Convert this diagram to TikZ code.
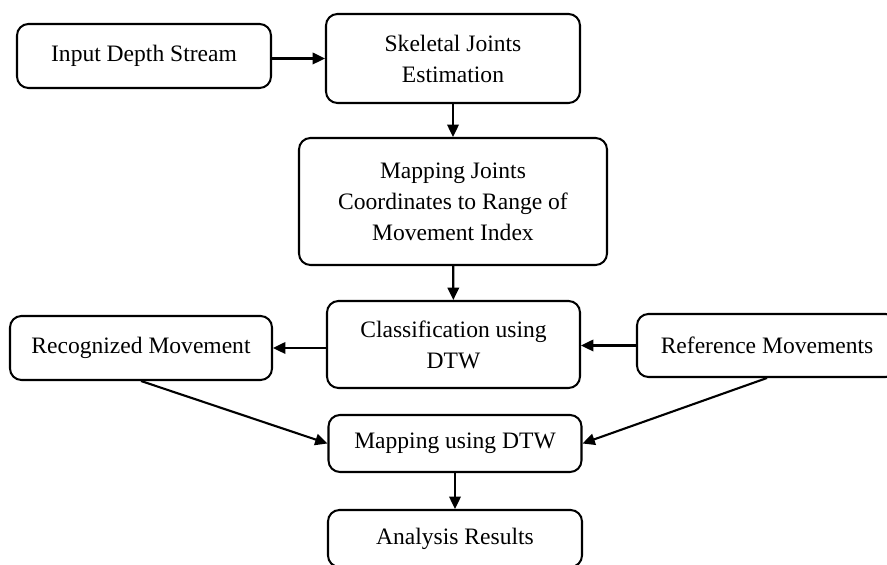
\documentclass[tikz,border=0pt]{standalone}
\usepackage{fontspec}
\setmainfont{Liberation Serif}
\usepackage{tikz}
\usetikzlibrary{shapes, arrows.meta, positioning, calc}

\tikzset{
  stage/.style={draw, rectangle, rounded corners=6.5pt, line width=1.15pt, align=center,
    font=\fontsize{13.4pt}{17.6pt}\selectfont, inner sep=0pt},
  flow/.style={-{Triangle[length=7pt, width=6.5pt]}, line width=1.2pt}
}

\begin{document}
\begin{tikzpicture}
\useasboundingbox (0,0) rectangle (17.74,-11.3);

% Top row
\node[stage, minimum width=5.08cm, minimum height=1.28cm] (input) at (2.88, -1.12) {Input Depth Stream};
\node[stage, minimum width=5.08cm, minimum height=1.78cm] (skel) at (9.06, -1.17) {Skeletal Joints\\Estimation};

% Middle column
\node[stage, minimum width=6.16cm, minimum height=2.54cm] (rom) at (9.06, -4.03) {Mapping Joints\\Coordinates to Range of\\Movement Index};
\node[stage, minimum width=5.06cm, minimum height=1.74cm] (classify) at (9.07, -6.89) {Classification using\\DTW};

% Side boxes
\node[stage, minimum width=5.24cm, minimum height=1.28cm] (recog) at (2.82, -6.96) {Recognized Movement};
\node[stage, minimum width=5.2cm, minimum height=1.26cm] (refmov) at (15.34, -6.91) {Reference Movements};

% Bottom
\node[stage, minimum width=5.06cm, minimum height=1.14cm] (mapdtw) at (9.1, -8.87) {Mapping using DTW};
\node[stage, minimum width=5.08cm, minimum height=1.14cm] (results) at (9.1, -10.77) {Analysis Results};

% Arrows
\draw[flow] (skel.west -| input.east) -- (skel.west);
\draw[flow] (skel) -- (rom);
\draw[flow] (rom) -- (classify);
\draw[flow] (recog.east -| classify.west) -- (recog.east);
\draw[flow] (refmov.west) -- (refmov.west -| classify.east);
\draw[flow] (recog.south) -- (mapdtw.west);
\draw[flow] (refmov.south) -- (mapdtw.east);
\draw[flow] (mapdtw) -- (results);
\end{tikzpicture}
\end{document}
